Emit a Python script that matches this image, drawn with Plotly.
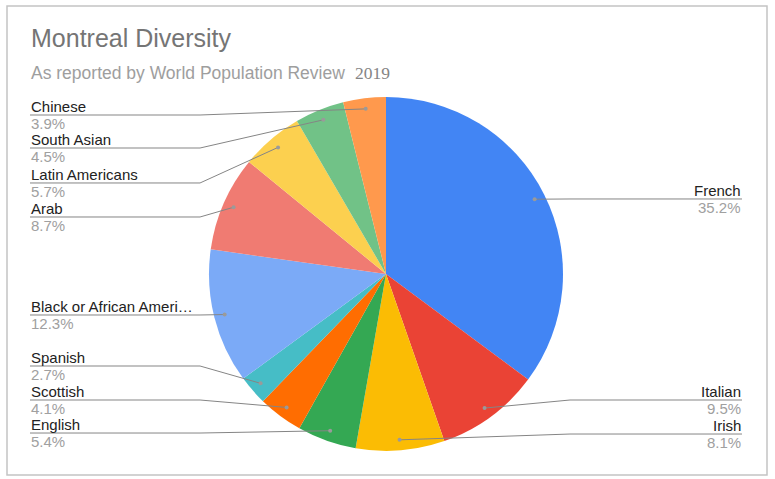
import numpy as np
import plotly.graph_objects as go

# Montreal diversity, as a Google Sheets style pie with side labels
groups = ["French", "Italian", "Irish", "English", "Scottish", "Spanish",
          "Black or African Ameri…", "Arab", "Latin Americans", "South Asian",
          "Chinese"]
shares = [35.2, 9.5, 8.1, 5.4, 4.1, 2.7, 12.3, 8.7, 5.7, 4.5, 3.9]
colors = ["#4285F4", "#EA4335", "#FBBC04", "#34A853", "#FF6D01", "#46BDC6",
          "#7BAAF7", "#F07B72", "#FCD04F", "#71C287", "#FF994D"]

# label layout (pixels): which side and the y of each leader line
label_side = ["r", "r", "r", "l", "l", "l", "l", "l", "l", "l", "l"]
label_y = [199, 400, 434, 433, 400, 366, 315, 217, 183, 148, 115]

W, H = 775, 479
cx, cy, R = 386, 274, 177
LEFT_X, LEFT_ELBOW = 30, 200
RIGHT_X, RIGHT_ELBOW = 742, 570

def px(x):
    return x / W

def py(y):
    return 1 - y / H

fig = go.Figure()
fig.add_trace(go.Pie(
    labels=groups, values=shares, sort=False, direction="clockwise",
    rotation=0, marker=dict(colors=colors, line=dict(width=0)),
    textinfo="none", hoverinfo="label+percent", showlegend=False,
    domain=dict(x=[px(cx - R), px(cx + R)], y=[py(cy + R), py(cy - R)]),
))

shapes = [dict(type="rect", xref="paper", yref="paper",
               x0=px(7), x1=px(767), y0=py(475), y1=py(6),
               line=dict(color="#c4c4c4", width=1.5), layer="below")]
annotations = []

# dots and leader lines, from slice mid-angles
vals = np.array(shares)
mid = (np.cumsum(vals) - vals / 2) / vals.sum() * 2 * np.pi
for name, v, a, side, ly in zip(groups, shares, mid, label_side, label_y):
    dx = cx + 0.94 * R * np.sin(a)
    dy = cy - 0.94 * R * np.cos(a)
    if side == "l":
        x_end, anchor = LEFT_X, "left"
        elbow = min(LEFT_ELBOW, dx)
    else:
        x_end, anchor = RIGHT_X, "right"
        elbow = max(RIGHT_ELBOW, dx)
    path = "M {:.4f},{:.4f} L {:.4f},{:.4f} L {:.4f},{:.4f}".format(
        px(x_end), py(ly), px(elbow), py(ly), px(dx), py(dy))
    shapes.append(dict(type="path", xref="paper", yref="paper", path=path,
                       line=dict(color="#858585", width=1), layer="above"))
    shapes.append(dict(type="circle", xref="paper", yref="paper",
                       x0=px(dx - 2), x1=px(dx + 2), y0=py(dy + 2), y1=py(dy - 2),
                       fillcolor="#9a9a9a", line=dict(width=0), layer="above"))
    annotations.append(dict(x=px(x_end), y=py(ly + 1), xref="paper", yref="paper",
                            text=name, showarrow=False, xanchor=anchor,
                            yanchor="bottom", borderpad=0,
                            font=dict(size=15, color="#222222")))
    annotations.append(dict(x=px(x_end), y=py(ly - 1), xref="paper", yref="paper",
                            text="{:.1f}%".format(v), showarrow=False,
                            xanchor=anchor, yanchor="top", borderpad=0,
                            font=dict(size=15, color="#a0a0a0")))

annotations.append(dict(x=px(29), y=py(38), xref="paper", yref="paper",
                        text="Montreal Diversity", showarrow=False,
                        xanchor="left", yanchor="middle",
                        font=dict(size=25, color="#757575")))
annotations.append(dict(x=px(29), y=py(73), xref="paper", yref="paper",
                        text="As reported by World Population Review",
                        showarrow=False, xanchor="left", yanchor="middle",
                        font=dict(size=17.5, color="#9e9e9e")))
annotations.append(dict(x=px(353), y=py(73), xref="paper", yref="paper",
                        text="2019", showarrow=False,
                        xanchor="left", yanchor="middle",
                        font=dict(size=17.5, color="#858585",
                                  family="Liberation Serif, DejaVu Serif, serif")))

fig.update_layout(
    width=W, height=H, margin=dict(l=0, r=0, t=0, b=0),
    paper_bgcolor="white", plot_bgcolor="white",
    font=dict(family="Arial, Liberation Sans, sans-serif"),
    shapes=shapes, annotations=annotations,
)

fig.write_html("out.html", config={"displayModeBar": False},
               post_script="document.body.style.margin='0';")
